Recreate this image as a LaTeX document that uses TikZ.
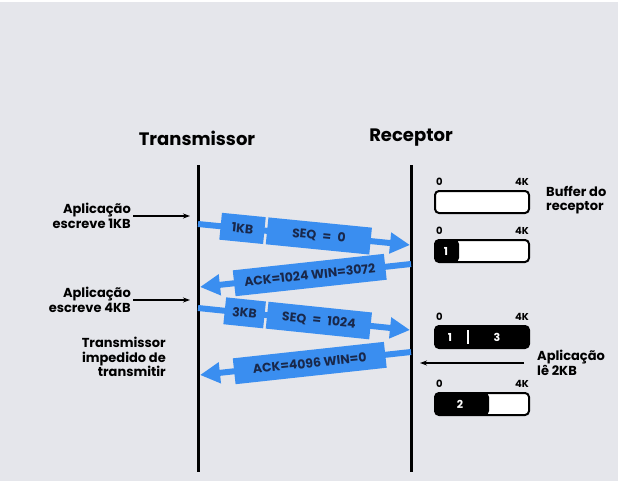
\documentclass[tikz,border=0pt]{standalone}
\usepackage{fontspec}
\setmainfont{Poppins}
\usetikzlibrary{arrows.meta}
\definecolor{msgblue}{RGB}{58,142,240}
\definecolor{msgtext}{RGB}{25,40,75}
\definecolor{bggray}{RGB}{229,230,235}

\begin{document}
\begin{tikzpicture}[x=1pt, y=-1pt,
  title/.style={font=\bfseries\fontsize{18}{21}\selectfont},
  side label/.style={font=\bfseries\fontsize{13}{14.5}\selectfont, align=right, inner sep=2pt},
  time line/.style={line width=3pt},
  msg line/.style={msgblue, line width=6pt, -{Triangle[length=20pt,width=20pt]}},
  seg box/.style={fill=msgblue, text=msgtext, font=\bfseries\fontsize{12.5}{14}\selectfont, minimum height=27pt, inner sep=0pt, sloped},
  buf box/.style={draw, line width=2pt, rounded corners=4pt, fill=white, minimum width=94pt, minimum height=22pt, inner sep=0pt},
  buf num/.style={text=white, font=\bfseries\fontsize{11}{13}\selectfont, inner sep=0pt},
  buf end/.style={font=\bfseries\fontsize{10}{12}\selectfont, inner sep=0pt},
  app arrow/.style={-{Stealth[length=7pt,width=5pt]}, line width=1.2pt}]
\useasboundingbox (0,0) rectangle (628,481);
\fill[white] (0,0) rectangle (628,481);
\fill[bggray] (0,2) rectangle (618,481);

% time lines
\node[title] (tx) at (197,138) {Transmissor};
\node[title] (rx) at (411,138) {Receptor};
\coordinate (t0) at (198,165);
\coordinate (t9) at (198,472);
\coordinate (r0) at (411,165);
\coordinate (r9) at (411,472);
\draw[time line] (t0) -- (t9);
\draw[time line] (r0) -- (r9);

% segments
\coordinate (t1) at (198,224);
\coordinate (r1) at (410,245);
\coordinate (r2) at (411,264);
\coordinate (t2) at (200,287);
\coordinate (t3) at (198,308);
\coordinate (r3) at (410,330);
\coordinate (r4) at (411,352);
\coordinate (t4) at (200,375);
\draw[msg line] (t1) -- (r1)
  node[seg box, minimum width=44pt, pos=0.21] (kb1) {1KB}
  node[seg box, minimum width=104pt, pos=0.57] (seq1) {SEQ\enspace=\enspace0};
\draw[msg line] (r2) -- (t2)
  node[seg box, minimum width=152pt, minimum height=26pt, pos=0.48] (ack1) {ACK=1024 WIN=3072};
\draw[msg line] (t3) -- (r3)
  node[seg box, minimum width=40pt, pos=0.22] (kb3) {3KB}
  node[seg box, minimum width=104pt, pos=0.57] (seq3) {SEQ\enspace=\enspace1024};
\draw[msg line] (r4) -- (t4)
  node[seg box, minimum width=152pt, minimum height=26pt, pos=0.48] (ack2) {ACK=4096 WIN=0};

% sender side
\node[side label, anchor=east] (w1) at (133,216) {Aplicação\\escreve 1KB};
\coordinate (a1) at (190,216);
\draw[app arrow] (w1) -- (a1);
\node[side label, anchor=east] (w2) at (133,300) {Aplicação\\escreve 4KB};
\coordinate (a2) at (190,300);
\draw[app arrow] (w2) -- (a2);
\node[side label, anchor=east] (stop) at (168,357) {Transmissor\\impedido de\\transmitir};

% receiver buffers
\node[buf box] (b1) at (482,202) {};
\node[buf box, path picture={\fill[black] (path picture bounding box.south west) rectangle ([xshift=24pt]path picture bounding box.north west);}] (b2) at (482,251) {};
\node[buf box, fill=black] (b3) at (482,337) {};
\node[buf box, path picture={\fill[black] (path picture bounding box.south west) rectangle ([xshift=54pt]path picture bounding box.north west);}] (b4) at (482,404) {};
\foreach \b in {b1,b2,b3,b4} {
  \node[buf end, anchor=south west] at ([xshift=2pt,yshift=4pt]\b.north west) {0};
  \node[buf end, anchor=south east] at ([xshift=-1pt,yshift=4pt]\b.north east) {4K};
}
\node[buf num] (n1) at (446,251) {1};
\node[buf num] (n31) at (450,337) {1};
\node[buf num] (n33) at (497,337) {3};
\draw[white, line width=1.5pt] (468,330) -- (468,344);
\node[buf num] (n2) at (460,404) {2};
\node[side label, align=left, anchor=west] (bl) at (544,200) {Buffer do\\receptor};
\node[side label, align=left, anchor=west, inner xsep=13pt] (rd) at (524,363) {Aplicação\\lê 2KB};
\coordinate (a3) at (420,363);
\draw[app arrow] (rd.west) -- (a3);
\end{tikzpicture}
\end{document}
